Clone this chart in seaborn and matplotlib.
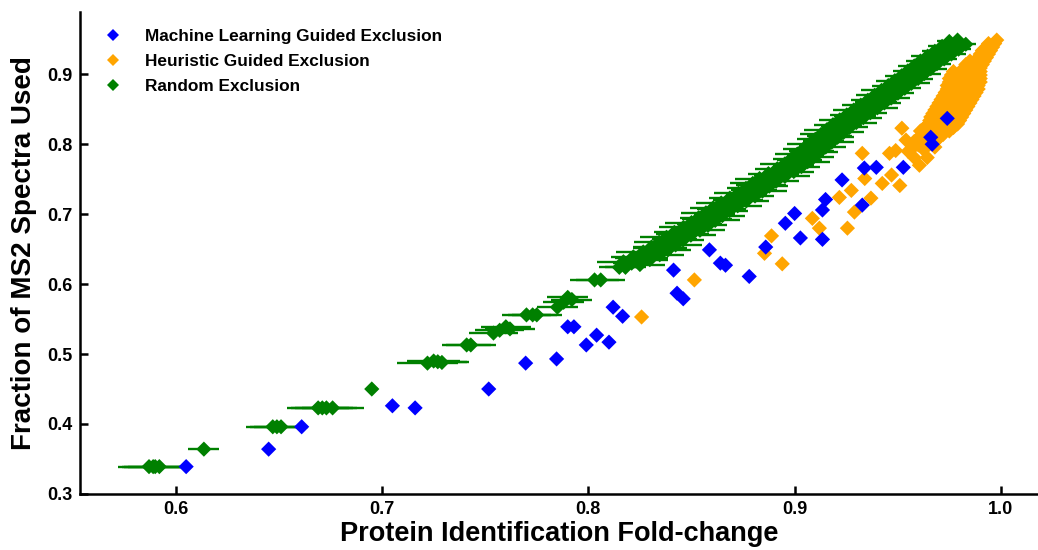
import pandas as pd
import seaborn as sns
import matplotlib.pyplot as plt

# Machine learning guided exclusion (blue)
ml_x = [0.605, 0.645, 0.661, 0.705, 0.716, 0.7517, 0.7696, 0.7846, 0.790, 0.793,
        0.799, 0.804, 0.810, 0.812, 0.8166, 0.8413, 0.843, 0.846, 0.8587, 0.864,
        0.8665, 0.878, 0.886, 0.8955, 0.900, 0.9028, 0.9135, 0.915, 0.9135, 0.923,
        0.9328, 0.9338, 0.9396, 0.9527, 0.966, 0.9667, 0.974]
ml_y = [0.339, 0.364, 0.396, 0.426, 0.423, 0.450, 0.487, 0.493, 0.539, 0.539,
        0.513, 0.527, 0.517, 0.567, 0.554, 0.620, 0.587, 0.579, 0.649, 0.630,
        0.627, 0.611, 0.653, 0.687, 0.701, 0.666, 0.706, 0.721, 0.664, 0.749,
        0.713, 0.766, 0.767, 0.767, 0.810, 0.800, 0.837]

# Heuristic guided exclusion (orange): scattered points, then the dense cluster near 1.0
heur_x = [0.8258, 0.8514, 0.8854, 0.8888, 0.894, 0.9086, 0.912, 0.9217, 0.9256, 0.9275,
          0.929, 0.9328, 0.934, 0.937, 0.9425, 0.946, 0.949, 0.951, 0.947, 0.952,
          0.954, 0.955, 0.958, 0.9605, 0.9643, 0.9655, 0.968,
          0.998,
          0.997, 0.994,
          0.996, 0.993,
          0.995, 0.991,
          0.994, 0.990,
          0.993, 0.989,
          0.992, 0.988, 0.985,
          0.991, 0.987, 0.983,
          0.990, 0.986, 0.982,
          0.990, 0.985, 0.981, 0.977,
          0.990, 0.985, 0.980, 0.976,
          0.990, 0.985, 0.980, 0.975,
          0.990, 0.985, 0.980, 0.975,
          0.989, 0.984, 0.979, 0.974,
          0.989, 0.984, 0.979, 0.974,
          0.988, 0.983, 0.978, 0.973,
          0.987, 0.982, 0.977, 0.972,
          0.986, 0.981, 0.976, 0.971,
          0.985, 0.980, 0.975, 0.970,
          0.984, 0.979, 0.974, 0.969,
          0.983, 0.978, 0.973, 0.968,
          0.982, 0.977, 0.972, 0.967,
          0.981, 0.976, 0.971, 0.966,
          0.980, 0.975, 0.970, 0.966,
          0.979, 0.974, 0.969, 0.965,
          0.977, 0.972, 0.967, 0.963,
          0.975, 0.970, 0.965, 0.961,
          0.972, 0.967, 0.962,
          0.970, 0.965, 0.960,
          0.968, 0.963, 0.958,
          0.965, 0.960,
          0.962, 0.957]
heur_y = [0.553, 0.606, 0.644, 0.669, 0.629, 0.694, 0.680, 0.724, 0.680, 0.734,
          0.703, 0.787, 0.751, 0.723, 0.744, 0.787, 0.791, 0.741, 0.756, 0.823,
          0.806, 0.790, 0.781, 0.770, 0.781, 0.834, 0.796,
          0.949,
          0.944, 0.944,
          0.939, 0.939,
          0.934, 0.934,
          0.929, 0.929,
          0.924, 0.924,
          0.919, 0.919, 0.919,
          0.914, 0.914, 0.914,
          0.909, 0.909, 0.909,
          0.904, 0.904, 0.904, 0.904,
          0.899, 0.899, 0.899, 0.899,
          0.894, 0.894, 0.894, 0.894,
          0.889, 0.889, 0.889, 0.889,
          0.884, 0.884, 0.884, 0.884,
          0.879, 0.879, 0.879, 0.879,
          0.874, 0.874, 0.874, 0.874,
          0.869, 0.869, 0.869, 0.869,
          0.864, 0.864, 0.864, 0.864,
          0.859, 0.859, 0.859, 0.859,
          0.854, 0.854, 0.854, 0.854,
          0.849, 0.849, 0.849, 0.849,
          0.844, 0.844, 0.844, 0.844,
          0.839, 0.839, 0.839, 0.839,
          0.834, 0.834, 0.834, 0.834,
          0.829, 0.829, 0.829, 0.829,
          0.824, 0.824, 0.824, 0.824,
          0.819, 0.819, 0.819, 0.819,
          0.814, 0.814, 0.814,
          0.809, 0.809, 0.809,
          0.804, 0.804, 0.804,
          0.799, 0.799,
          0.794, 0.794]

# Random exclusion (green), with x error: low clusters, then the dense band
rand_x = [0.587, 0.589, 0.590, 0.592, 0.6136, 0.647, 0.649, 0.651,
          0.669, 0.671, 0.673, 0.676, 0.695, 0.722, 0.725, 0.727, 0.729,
          0.741, 0.743, 0.754, 0.757, 0.760, 0.762, 0.770, 0.773, 0.775,
          0.785, 0.788, 0.790, 0.792, 0.803, 0.806, 0.815, 0.818,
          0.8170, 0.8210, 0.8250,
          0.8218, 0.8258, 0.8298,
          0.8266, 0.8306, 0.8346,
          0.8306, 0.8346, 0.8386,
          0.8343, 0.8383, 0.8423,
          0.8379, 0.8419, 0.8459,
          0.8417, 0.8457, 0.8497,
          0.8461, 0.8501, 0.8541,
          0.8500, 0.8540, 0.8580,
          0.8535, 0.8575, 0.8615,
          0.8570, 0.8610, 0.8650,
          0.8605, 0.8645, 0.8685,
          0.8644, 0.8684, 0.8724,
          0.8686, 0.8726, 0.8766,
          0.8728, 0.8768, 0.8808,
          0.8764, 0.8804, 0.8844,
          0.8797, 0.8837, 0.8877,
          0.8830, 0.8870, 0.8910,
          0.8873, 0.8913, 0.8953,
          0.8916, 0.8956, 0.8996,
          0.8953, 0.8993, 0.9033,
          0.8983, 0.9023, 0.9063,
          0.9013, 0.9053, 0.9093,
          0.9042, 0.9082, 0.9122,
          0.9071, 0.9111, 0.9151,
          0.9100, 0.9140, 0.9180,
          0.9128, 0.9168, 0.9208,
          0.9157, 0.9197, 0.9237,
          0.9186, 0.9226, 0.9266,
          0.9219, 0.9259, 0.9299,
          0.9253, 0.9293, 0.9333,
          0.9287, 0.9327, 0.9367,
          0.9321, 0.9361, 0.9401,
          0.9355, 0.9395, 0.9435,
          0.9388, 0.9428, 0.9468,
          0.9421, 0.9461, 0.9501,
          0.9454, 0.9494, 0.9534,
          0.9486, 0.9526, 0.9566,
          0.9519, 0.9559, 0.9599,
          0.9549, 0.9589, 0.9629,
          0.9580, 0.9620, 0.9660,
          0.9610, 0.9650, 0.9690,
          0.9645, 0.9685, 0.9725,
          0.9680, 0.9720, 0.9760,
          0.9715, 0.9755, 0.9795,
          0.9750, 0.9790, 0.9830,
          0.9790]
rand_y = [0.339, 0.339, 0.339, 0.339, 0.364, 0.396, 0.396, 0.396,
          0.423, 0.423, 0.423, 0.423, 0.450, 0.487, 0.490, 0.489, 0.488,
          0.513, 0.513, 0.530, 0.534, 0.539, 0.536, 0.556, 0.556, 0.556,
          0.567, 0.574, 0.581, 0.578, 0.606, 0.606, 0.624, 0.624,
          0.632, 0.630, 0.628,
          0.639, 0.637, 0.635,
          0.646, 0.644, 0.642,
          0.653, 0.651, 0.649,
          0.660, 0.658, 0.656,
          0.667, 0.665, 0.663,
          0.674, 0.672, 0.670,
          0.681, 0.679, 0.677,
          0.688, 0.686, 0.684,
          0.695, 0.693, 0.691,
          0.702, 0.700, 0.698,
          0.709, 0.707, 0.705,
          0.716, 0.714, 0.712,
          0.723, 0.721, 0.719,
          0.730, 0.728, 0.726,
          0.737, 0.735, 0.733,
          0.744, 0.742, 0.740,
          0.751, 0.749, 0.747,
          0.758, 0.756, 0.754,
          0.765, 0.763, 0.761,
          0.772, 0.770, 0.768,
          0.779, 0.777, 0.775,
          0.786, 0.784, 0.782,
          0.793, 0.791, 0.789,
          0.800, 0.798, 0.796,
          0.807, 0.805, 0.803,
          0.814, 0.812, 0.810,
          0.821, 0.819, 0.817,
          0.828, 0.826, 0.824,
          0.835, 0.833, 0.831,
          0.842, 0.840, 0.838,
          0.849, 0.847, 0.845,
          0.856, 0.854, 0.852,
          0.863, 0.861, 0.859,
          0.870, 0.868, 0.866,
          0.877, 0.875, 0.873,
          0.884, 0.882, 0.880,
          0.891, 0.889, 0.887,
          0.898, 0.896, 0.894,
          0.905, 0.903, 0.901,
          0.912, 0.910, 0.908,
          0.919, 0.917, 0.915,
          0.926, 0.924, 0.922,
          0.933, 0.931, 0.929,
          0.940, 0.938, 0.936,
          0.947, 0.945, 0.943,
          0.949]
rand_err = [0.015, 0.015, 0.015, 0.015, 0.0075, 0.013, 0.013, 0.013,
            0.015, 0.015, 0.015, 0.015, 0.003, 0.015, 0.013, 0.015, 0.012,
            0.012, 0.012, 0.012, 0.012, 0.012, 0.012, 0.012, 0.012, 0.012,
            0.010, 0.010, 0.010, 0.010, 0.012, 0.012, 0.010, 0.010,
            0.013, 0.009, 0.012,
            0.011, 0.013, 0.009,
            0.013, 0.010, 0.012,
            0.009, 0.013, 0.011,
            0.012, 0.009, 0.013,
            0.013, 0.011, 0.010,
            0.010, 0.013, 0.012,
            0.012, 0.009, 0.012,
            0.013, 0.011, 0.009,
            0.009, 0.012, 0.012,
            0.012, 0.010, 0.011,
            0.011, 0.012, 0.009,
            0.012, 0.009, 0.012,
            0.010, 0.012, 0.011,
            0.012, 0.010, 0.009,
            0.009, 0.011, 0.012,
            0.011, 0.012, 0.009,
            0.012, 0.009, 0.011,
            0.010, 0.011, 0.012,
            0.011, 0.009, 0.010,
            0.012, 0.010, 0.009,
            0.009, 0.011, 0.011,
            0.011, 0.009, 0.010,
            0.010, 0.011, 0.009,
            0.011, 0.009, 0.010,
            0.009, 0.010, 0.011,
            0.010, 0.011, 0.008,
            0.011, 0.008, 0.010,
            0.009, 0.010, 0.009,
            0.010, 0.008, 0.010,
            0.008, 0.010, 0.009,
            0.010, 0.009, 0.008,
            0.009, 0.008, 0.010,
            0.008, 0.010, 0.008,
            0.009, 0.008, 0.009,
            0.010, 0.008, 0.008,
            0.008, 0.009, 0.008,
            0.009, 0.007, 0.009,
            0.008, 0.009, 0.007,
            0.007, 0.008, 0.008,
            0.008, 0.007, 0.008,
            0.007, 0.008, 0.007,
            0.008, 0.007, 0.006,
            0.006, 0.007, 0.007,
            0.007, 0.006, 0.006,
            0.006, 0.006, 0.005,
            0.004]

labels = ["Machine Learning Guided Exclusion", "Heuristic Guided Exclusion", "Random Exclusion"]
colors = {labels[0]: "#0000FF", labels[1]: "#FFA500", labels[2]: "#008000"}

# orange first so blue sits on top of it, as in the original
df = pd.concat([
    pd.DataFrame({"x": heur_x, "y": heur_y, "method": labels[1]}),
    pd.DataFrame({"x": ml_x, "y": ml_y, "method": labels[0]}),
    pd.DataFrame({"x": rand_x, "y": rand_y, "method": labels[2]}),
], ignore_index=True)

sns.set_style("ticks")
plt.rcParams['font.family'] = ['Liberation Sans', 'DejaVu Sans']
plt.rcParams['font.weight'] = 'bold'
for key in ['text.color', 'axes.labelcolor', 'xtick.color', 'ytick.color', 'axes.edgecolor']:
    plt.rcParams[key] = 'black'

fig = plt.figure(figsize=(10.38, 5.5), dpi=100)
ax = fig.add_axes([0.077, 0.102, 0.923, 0.876])

ax.errorbar(rand_x, rand_y, xerr=rand_err, fmt='none', ecolor=colors[labels[2]],
            elinewidth=1.7, capsize=0, zorder=2)
sns.scatterplot(data=df, x="x", y="y", hue="method", hue_order=labels, palette=colors,
                marker="D", s=60, linewidth=0, ax=ax, zorder=3)

ax.set_xlim(0.5535, 1.018)
ax.set_ylim(0.3, 0.989)
ax.set_xticks([0.6, 0.7, 0.8, 0.9, 1.0])
ax.set_yticks([0.3, 0.4, 0.5, 0.6, 0.7, 0.8, 0.9])
ax.set_xticklabels(["0.6", "0.7", "0.8", "0.9", "1.0"])
ax.set_yticklabels(["0.3", "0.4", "0.5", "0.6", "0.7", "0.8", "0.9"])
ax.tick_params(direction='in', length=6, width=1.8, labelsize=13, pad=5)
for lab in ax.get_xticklabels() + ax.get_yticklabels():
    lab.set_fontweight('bold')
sns.despine(ax=ax)
for sp in ["left", "bottom"]:
    ax.spines[sp].set_linewidth(1.8)

ax.set_xlabel("Protein Identification Fold-change", fontsize=19.5, fontweight='bold', labelpad=2)
ax.set_ylabel("Fraction of MS2 Spectra Used", fontsize=20, fontweight='bold', labelpad=7.5)

leg = ax.legend(loc="upper left", bbox_to_anchor=(0.0, 0.997), frameon=False,
                markerscale=0.75, handletextpad=0.85, labelspacing=0.58,
                prop={'size': 12.4, 'weight': 'bold'})

plt.savefig("out.png", dpi=100)
